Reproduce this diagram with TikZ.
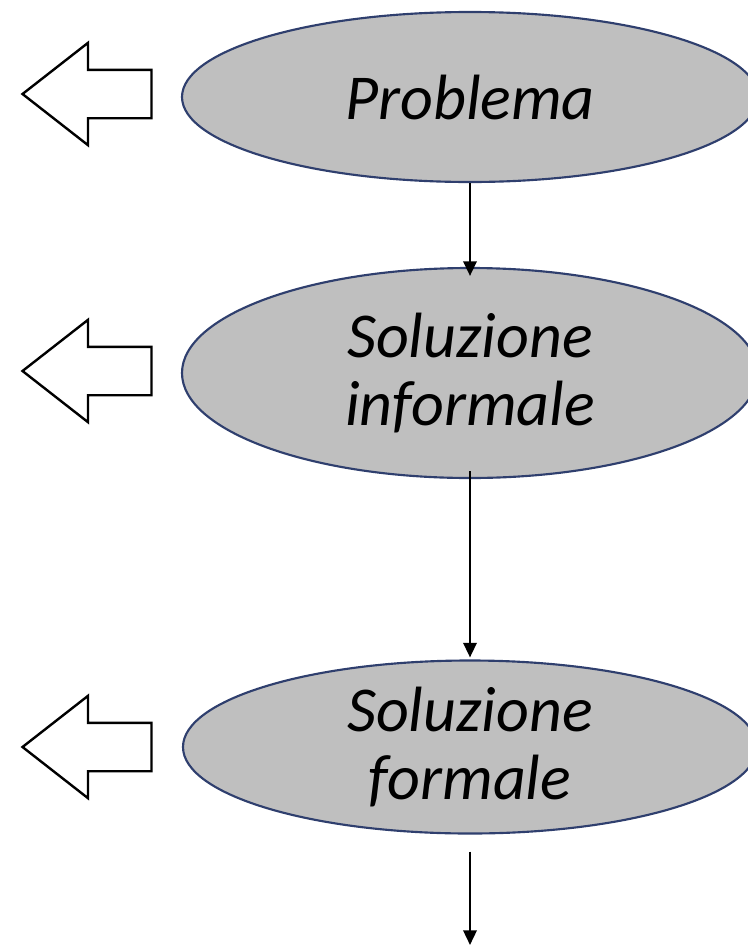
\documentclass[tikz,border=0pt]{standalone}
\usepackage{fontspec}
\setmainfont{Carlito}
\usetikzlibrary{shapes.geometric,shapes.arrows,arrows.meta}

\definecolor{edgeblue}{HTML}{2F3F6E}
\definecolor{stagegray}{HTML}{BFBFBF}

\tikzset{
	stage/.style={draw=edgeblue,fill=stagegray,ellipse,line width=1.6pt,inner sep=0pt,align=center,
		font=\fontsize{48}{51}\selectfont\itshape},
	backarrow/.style={draw,single arrow,shape border rotate=180,line width=1.8pt,
		inner xsep=0pt,inner ysep=17.25pt,
		minimum height=96.75pt,single arrow head extend=20.25pt,
		single arrow tip angle=76},
	flow/.style={-{Triangle[length=11pt,width=10pt]},line width=1.8pt}
}

\begin{document}
\begin{tikzpicture}[x=0.75pt,y=-0.75pt]
	\useasboundingbox (0,0) rectangle (747,946);
	\draw (470,97) node(prob) [stage,minimum width=432pt,minimum height=127.5pt] {Problema};
	\draw (470,373) node(inf) [stage,minimum width=432pt,minimum height=157.5pt] {Soluzione\\informale};
	\draw (470,747) node(form) [stage,minimum width=430.5pt,minimum height=129.75pt] {Soluzione\\formale};
	\draw (102.5,94) node(back1) [backarrow] {};
	\draw (102.5,371) node(back2) [backarrow] {};
	\draw (102.5,747) node(back3) [backarrow] {};
	\coordinate (out) at (470,945);
	\path[draw,flow,shorten >=-6.75pt] (prob.south) -- (inf.north);
	\path[draw,flow,shorten <=-6pt,shorten >=1.5pt] (inf.south) -- (form.north);
	\path[draw,flow,shorten <=12.75pt] (form.south) -- (out);
\end{tikzpicture}
\end{document}
